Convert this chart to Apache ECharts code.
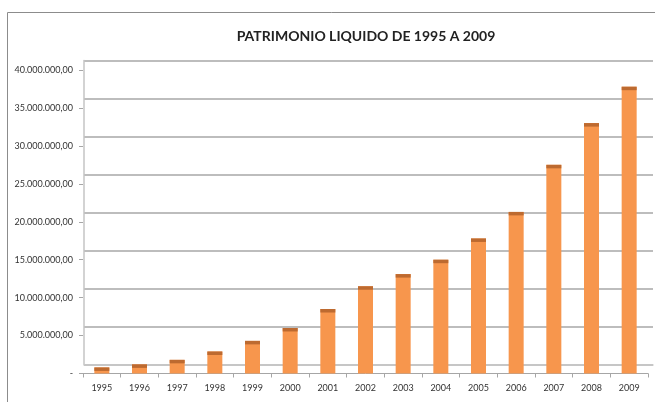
<!DOCTYPE html>
<html>
<head>
<meta charset="utf-8">
<script src="https://cdn.jsdelivr.net/npm/echarts@6/dist/echarts.min.js"></script>
<style>
  html, body { margin: 0; padding: 0; background: #fff; }
  #chart { width: 655px; height: 402px; }
</style>
</head>
<body>
<div id="chart"></div>
<script>
// anos e patrimonio liquido (R$)
const years = ['1995','1996','1997','1998','1999','2000','2001','2002','2003','2004','2005','2006','2007','2008','2009'];
const patrimonio = [800000, 1200000, 1800000, 2900000, 4300000, 6000000, 8500000, 11500000, 13100000, 15000000, 17800000, 21300000, 27500000, 33000000, 37800000];
const yTicks = [0, 5000000, 10000000, 15000000, 20000000, 25000000, 30000000, 35000000, 40000000];

function fmtBR(v){
    if (v === 0) return '-';
    return String(v).replace(/\B(?=(\d{3})+(?!\d))/g, '.') + ',00';
}

const chart = echarts.init(document.getElementById('chart'));
const fontFam = 'Lato, "Liberation Sans", sans-serif';

const option = {
    animation: false,
    title: {
        text: 'PATRIMONIO LIQUIDO DE 1995 A 2009',
        left: 361,
        top: 24,
        textAlign: 'center',
        textStyle: { fontSize: 14, fontWeight: 'bold', color: '#222', fontFamily: fontFam }
    },
    graphic: [{
        type: 'rect',
        shape: { x: 7.5, y: 12.5, width: 700, height: 500 },
        style: { fill: 'none', stroke: '#8c8c8c', lineWidth: 1 },
        z: -10
    }],
    grid: [
        // frente (eixos e barras)
        { left: 83, right: 7, top: 70, bottom: 28.5 },
        // parede do fundo (linhas de grade)
        { left: 84, right: 2, top: 60.5, bottom: 37.7 }
    ],
    xAxis: [
        {
            type: 'category',
            gridIndex: 0,
            data: years,
            axisLine: { lineStyle: { color: '#a6a6a6', width: 1 } },
            axisTick: { show: true, length: 4, lineStyle: { color: '#a6a6a6' } },
            axisLabel: { fontSize: 9, color: '#333', margin: 10, fontFamily: fontFam }
        },
        {
            type: 'category',
            gridIndex: 1,
            data: years,
            axisLine: { lineStyle: { color: '#c9c9c9', width: 1.5 } },
            axisTick: { show: false },
            axisLabel: { show: false }
        }
    ],
    yAxis: [
        {
            type: 'value',
            gridIndex: 0,
            min: yTicks[0],
            max: yTicks[yTicks.length - 1],
            interval: yTicks[1] - yTicks[0],
            axisLine: { show: false },
            axisTick: { show: true, length: 4, lineStyle: { color: '#a6a6a6' } },
            splitLine: { show: false },
            axisLabel: { fontSize: 9, color: '#333', margin: 10, fontFamily: fontFam, formatter: fmtBR }
        },
        {
            type: 'value',
            gridIndex: 1,
            min: yTicks[0],
            max: yTicks[yTicks.length - 1],
            interval: yTicks[1] - yTicks[0],
            axisLine: { show: true, lineStyle: { color: '#c4c4c4', width: 1.5 } },
            axisTick: { show: false },
            axisLabel: { show: false },
            splitLine: { show: true, lineStyle: { color: '#bdbdbd', width: 2 } }
        }
    ],
    series: [
        {
            name: 'Patrimonio',
            type: 'bar',
            xAxisIndex: 0,
            yAxisIndex: 0,
            data: patrimonio,
            barWidth: 15,
            itemStyle: { color: '#f7964d' },
            z: 3
        },
        {
            name: 'Topo',
            type: 'pictorialBar',
            xAxisIndex: 0,
            yAxisIndex: 0,
            data: patrimonio,
            symbol: 'rect',
            symbolSize: [15, 3.5],
            symbolPosition: 'end',
            symbolOffset: [0, 0],
            itemStyle: { color: '#bd6a30' },
            z: 4
        }
    ]
};
chart.setOption(option);
</script>
</body>
</html>
